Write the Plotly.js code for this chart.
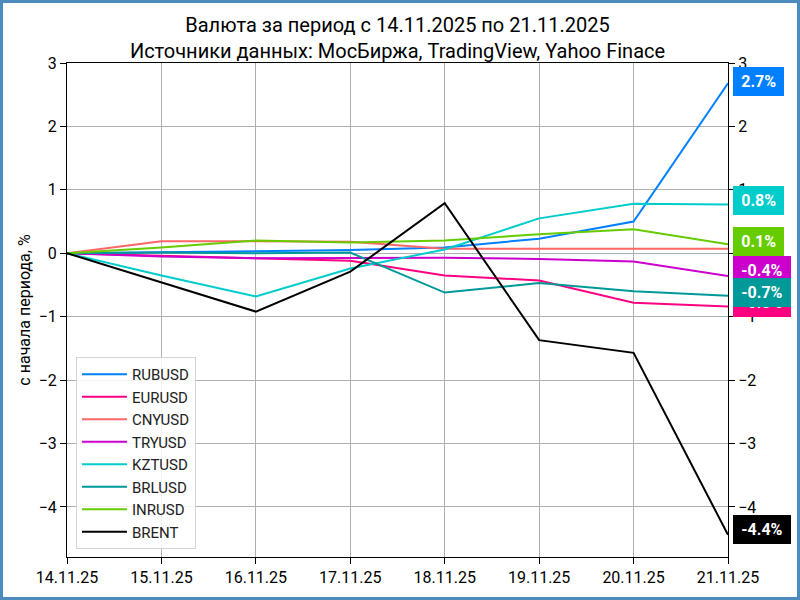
<!DOCTYPE html>
<html>
<head>
<meta charset="utf-8">
<script src="https://cdn.plot.ly/plotly-3.0.1.min.js"></script>
<style>
html,body{margin:0;padding:0;background:#fff;}
#frame{width:794px;height:594px;border:3px solid #4b8cbd;}
#chart{width:794px;height:594px;}
</style>
</head>
<body>
<div id="frame"><div id="chart"></div></div>
<script>
const dates = ["14.11.25","15.11.25","16.11.25","17.11.25","18.11.25","19.11.25","20.11.25","21.11.25"];
const seriesNames = ["RUBUSD","EURUSD","CNYUSD","TRYUSD","KZTUSD","BRLUSD","INRUSD","BRENT"];
const RUBUSD = [0, 0.01, 0.03, 0.05, 0.09, 0.23, 0.50, 2.68];
const EURUSD = [0, -0.04, -0.08, -0.12, -0.35, -0.43, -0.78, -0.84];
const CNYUSD = [0, 0.19, 0.19, 0.18, 0.07, 0.07, 0.07, 0.07];
const TRYUSD = [0, -0.05, -0.08, -0.08, -0.07, -0.09, -0.13, -0.36];
const KZTUSD = [0, -0.35, -0.68, -0.24, 0.06, 0.55, 0.78, 0.77];
const BRLUSD = [0, 0.01, 0.00, 0.01, -0.62, -0.47, -0.60, -0.67];
const INRUSD = [0, 0.09, 0.20, 0.17, 0.20, 0.30, 0.38, 0.14];
const BRENT  = [0, -0.46, -0.92, -0.29, 0.79, -1.37, -1.57, -4.44];

const values = [RUBUSD, EURUSD, CNYUSD, TRYUSD, KZTUSD, BRLUSD, INRUSD, BRENT];
const colors = ["#0080ff","#ff0080","#ff6666","#cc00cc","#00cccc","#009999","#66cc00","#000000"];
const labelShift = [2, 4, 4, 6, 4, 3, 3, 5];

const font = "Roboto, 'DejaVu Sans', sans-serif";

const traces = seriesNames.map((n, i) => ({
  type: "scatter", mode: "lines", name: n,
  x: dates, y: values[i],
  line: {color: colors[i], width: 2},
  hoverinfo: "skip"
}));
traces.push({
  type: "scatter", mode: "lines", x: dates, y: BRENT, yaxis: "y2",
  line: {color: "rgba(0,0,0,0)", width: 0}, showlegend: false, hoverinfo: "skip"
});

const annotations = seriesNames.map((n, i) => {
  const v = values[i][values[i].length - 1];
  return {
    xref: "paper", x: 1, yref: "y", y: v,
    xanchor: "left", yanchor: "middle", xshift: 5, yshift: labelShift[i],
    text: "<b>\u2009" + v.toFixed(1) + "%\u2009</b>", showarrow: false,
    font: {family: font, size: 16, color: "#ffffff"},
    bgcolor: colors[i], bordercolor: colors[i], borderwidth: 1, borderpad: 4
  };
});

const yr = [-4.79, 3.0];
const axCommon = {
  range: yr, dtick: 1, tick0: 0, ticks: "outside", ticklen: 6, tickwidth: 1, tickcolor: "#000",
  tickfont: {family: font, size: 16, color: "#000"}, zeroline: false,
  linecolor: "#000", linewidth: 1
};

const layout = {
  width: 794, height: 594,
  margin: {l: 64, r: 69, t: 60, b: 40},
  paper_bgcolor: "#ffffff", plot_bgcolor: "#ffffff",
  font: {family: font, color: "#000"},
  title: {
    text: "Валюта за период с 14.11.2025 по 21.11.2025<br>Источники данных: МосБиржа, TradingView, Yahoo Finace",
    font: {family: font, size: 20, color: "#000"},
    x: 0.5, xref: "paper", y: 0.952, yanchor: "top"
  },
  xaxis: {
    type: "category", range: [0, 7], showgrid: true, gridcolor: "#b0b0b0", gridwidth: 1,
    ticks: "outside", ticklen: 6, tickcolor: "#000",
    tickfont: {family: font, size: 16, color: "#000"},
    linecolor: "#000", linewidth: 1, mirror: true, zeroline: false
  },
  yaxis: Object.assign({}, axCommon, {
    showgrid: true, gridcolor: "#b0b0b0", gridwidth: 1, mirror: true,
    title: {text: "с начала периода, %", font: {family: font, size: 16, color: "#000"}, standoff: 4}
  }),
  yaxis2: Object.assign({}, axCommon, {
    overlaying: "y", side: "right", showgrid: false
  }),
  showlegend: true,
  legend: {
    x: 0.0136, y: 0.016, xanchor: "left", yanchor: "bottom",
    bgcolor: "rgba(255,255,255,0.85)", bordercolor: "#d4d4d4", borderwidth: 1,
    itemwidth: 45,
    font: {family: font, size: 15, color: "#222"}
  },
  annotations: annotations
};

Plotly.newPlot("chart", traces, layout, {displayModeBar: false, staticPlot: true});
</script>
</body>
</html>
